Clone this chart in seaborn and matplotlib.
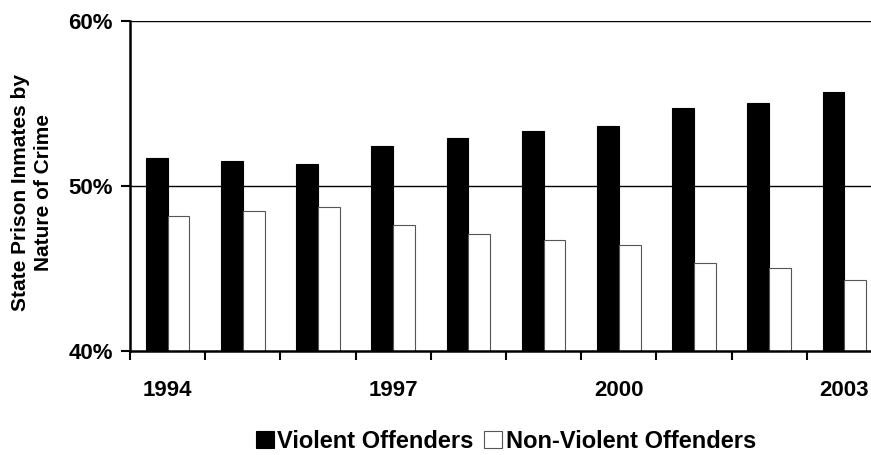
import numpy as np
import pandas as pd
import matplotlib
matplotlib.use("Agg")
import matplotlib.pyplot as plt
import seaborn as sns

# Dane (procent więźniów stanowych)
years = ["1994", "1995", "1996", "1997", "1998", "1999", "2000", "2001", "2002", "2003"]
violent = [51.7, 51.5, 51.3, 52.4, 52.9, 53.3, 53.6, 54.7, 55.0, 55.7]
non_violent = [48.2, 48.5, 48.7, 47.6, 47.1, 46.7, 46.4, 45.3, 45.0, 44.3]
series_names = ["Violent Offenders", "Non-Violent Offenders"]
shown_years = ["1994", "1997", "2000", "2003"]
y_ticks = [40, 50, 60]

df = pd.DataFrame({
    "year": years * 2,
    "share": violent + non_violent,
    "type": [series_names[0]] * len(years) + [series_names[1]] * len(years),
})

sns.set_style("white")
plt.rcParams["font.family"] = ["Liberation Sans", "DejaVu Sans"]
plt.rcParams["font.weight"] = "bold"
for key in ["text.color", "axes.labelcolor", "xtick.color", "ytick.color"]:
    plt.rcParams[key] = "black"

fig = plt.figure(figsize=(8.71, 4.55), dpi=100)
ax = fig.add_axes([130 / 871, 104 / 455, 752 / 871, 330.3 / 455])

sns.barplot(
    data=df, x="year", y="share", hue="type", order=years,
    hue_order=series_names, palette=["black", "white"],
    width=0.58, edgecolor="black", linewidth=0.8, ax=ax, zorder=3,
)
for p in ax.patches:
    if p.get_facecolor()[0] > 0.5:
        p.set_edgecolor("#555555")

ax.set_ylim(40, 60)
ax.set_xlim(-0.5, len(years) - 0.5)
ax.set_yticks(y_ticks)
ax.set_yticklabels([f"{v}%" for v in y_ticks], fontsize=16, fontweight="bold")
ax.tick_params(axis="y", direction="out", length=6.5, width=1.5, pad=6, left=True, color="black")

# etykiety lat co trzy, kreski między kategoriami
ax.set_xticks([years.index(y) for y in shown_years])
ax.set_xticklabels(shown_years, fontsize=16, fontweight="bold")
ax.tick_params(axis="x", which="major", length=0, pad=21)
ax.set_xticks(np.arange(-0.5, len(years), 1.0), minor=True)
ax.tick_params(axis="x", which="minor", direction="out", length=6.5, width=1.5,
               bottom=True, color="black")

for v in [50, 60]:
    ax.axhline(v, color="black", linewidth=1, zorder=1)

for side in ["top", "right"]:
    ax.spines[side].set_visible(False)
for side in ["left", "bottom"]:
    ax.spines[side].set_color("black")
    ax.spines[side].set_linewidth(1.8)
    ax.spines[side].set_zorder(4)

ax.set_xlabel("")
ax.set_ylabel("State Prison Inmates by\nNature of Crime", fontsize=15,
              fontweight="bold", linespacing=1.25)
ax.yaxis.set_label_coords(-0.1024, 0.481)

handles, labels = ax.get_legend_handles_labels()
ax.get_legend().remove()
fig.legend(
    handles, labels, loc="center", bbox_to_anchor=(506 / 871, 1 - 441 / 455),
    ncol=2, frameon=False, prop={"size": 17, "weight": "bold"},
    handlelength=0.75, handleheight=0.75, handletextpad=0.15, columnspacing=0.45,
)

fig.savefig("out.png", dpi=100)
